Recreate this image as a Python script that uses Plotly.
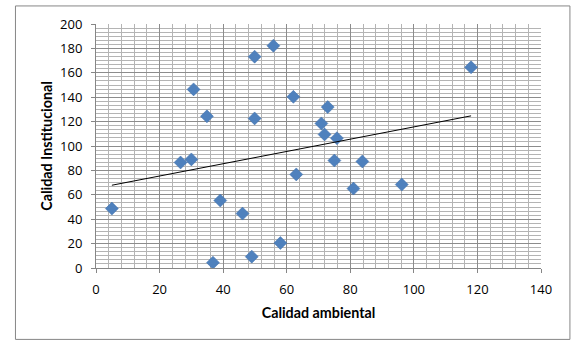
import numpy as np
import plotly.graph_objects as go

calidad_ambiental = [30.7, 34.9, 26.6, 30.0, 49.9, 55.8, 49.9, 62.1, 63.0, 118.0,
                     72.9, 70.9, 71.9, 75.8, 75.0, 83.8, 5.0, 39.1, 46.1, 36.8,
                     49.0, 58.0, 81.0, 96.2]
calidad_institucional = [146.4, 124.3, 86.5, 89.0, 173.2, 182.2, 122.6, 140.3, 76.7, 164.5,
                         131.9, 118.5, 109.5, 106.4, 88.1, 87.3, 48.7, 55.3, 44.6, 4.4,
                         9.3, 20.5, 65.1, 68.4]

x_ticks = [0, 20, 40, 60, 80, 100, 120, 140]
y_ticks = [0, 20, 40, 60, 80, 100, 120, 140, 160, 180, 200]

# linear trend line (least squares) over the data range
xa = np.array(calidad_ambiental)
ya = np.array(calidad_institucional)
slope, intercept = np.polyfit(xa, ya, 1)
trend_x = [xa.min(), xa.max()]
trend_y = [slope * v + intercept for v in trend_x]

fig = go.Figure()
fig.add_trace(go.Scatter(
    x=calidad_ambiental, y=calidad_institucional, mode="markers",
    marker=dict(symbol="diamond", size=10, color="#4F81BD",
                line=dict(color="#3F6FAA", width=0.5)),
    showlegend=False, hoverinfo="x+y"))
fig.add_trace(go.Scatter(
    x=trend_x, y=trend_y, mode="lines",
    line=dict(color="#000000", width=1), showlegend=False))

tick_font = dict(family="'Open Sans', Lato, sans-serif", size=13, color="#000000")
title_font = dict(family="Lato, 'Open Sans', sans-serif", size=14.3, color="#000000")
grid_major = "#8C8C8C"
grid_minor = "#B4B4B4"

fig.update_layout(
    width=580, height=348,
    margin=dict(l=96, r=39, t=24, b=80),
    paper_bgcolor="white", plot_bgcolor="white",
    font=tick_font,
    xaxis=dict(
        range=[0, 140], tickvals=x_ticks, ticktext=[str(v) for v in x_ticks],
        tickfont=tick_font, ticklabelstandoff=5,
        showgrid=True, gridcolor=grid_major, gridwidth=1,
        minor=dict(dtick=4, tick0=0, showgrid=True, gridcolor=grid_minor, gridwidth=1),
        showline=True, linecolor="#868686", linewidth=1,
        ticks="outside", ticklen=4, tickcolor="#868686",
        zeroline=False, fixedrange=True,
        title=dict(text="<b>Calidad ambiental</b>", font=title_font, standoff=11),
    ),
    yaxis=dict(
        range=[0, 200], tickvals=y_ticks, ticktext=[str(v) for v in y_ticks],
        tickfont=tick_font, ticklabelstandoff=6,
        showgrid=True, gridcolor=grid_major, gridwidth=1,
        minor=dict(dtick=20 / 6, tick0=0, showgrid=True, gridcolor=grid_minor, gridwidth=1),
        showline=True, linecolor="#868686", linewidth=1,
        ticks="outside", ticklen=4, tickcolor="#868686",
        zeroline=False, fixedrange=True,
        title=dict(text="<b>Calidad Institucional</b>", font=title_font, standoff=4),
    ),
    shapes=[dict(type="rect", xref="paper", yref="paper",
                 x0=-0.181, x1=1.065, y0=-0.2926, y1=1.074,
                 line=dict(color="#868686", width=1), fillcolor="rgba(0,0,0,0)",
                 layer="below")],
)

fig.write_html("out.html")
